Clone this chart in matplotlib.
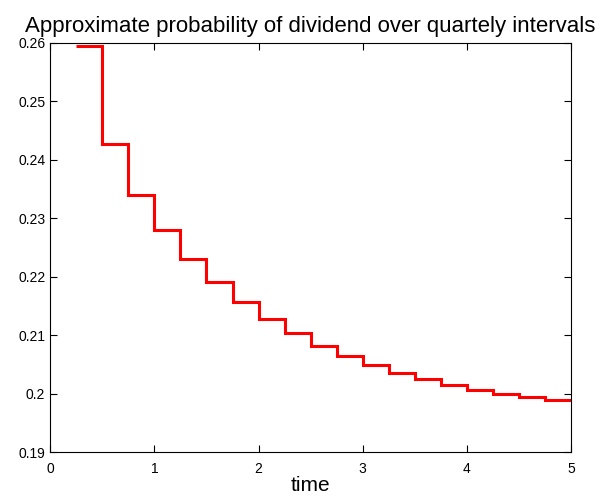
import numpy as np
import matplotlib.pyplot as plt

plt.rcParams['font.family'] = ['Liberation Sans', 'DejaVu Sans']

# quarterly interval edges (years) and approximate probability per interval
edges = [0.25, 0.5, 0.75, 1.0, 1.25, 1.5, 1.75, 2.0, 2.25, 2.5, 2.75,
         3.0, 3.25, 3.5, 3.75, 4.0, 4.25, 4.5, 4.75, 5.0]
prob = [0.2595, 0.2427, 0.2340, 0.2280, 0.2231, 0.2191, 0.2157, 0.2128,
        0.2103, 0.2082, 0.2064, 0.2049, 0.2036, 0.2025, 0.2015, 0.2007,
        0.2000, 0.1994, 0.1989]

fig = plt.figure(figsize=(6.05, 5.04), dpi=100)
ax = fig.add_axes([0.083, 0.103, 0.861, 0.812])
ax.stairs(prob, edges, baseline=None, color='red', linewidth=2.2)

ax.set_xlim(0, 5)
ax.set_ylim(0.19, 0.26)
ax.set_xticks(np.arange(0, 6, 1))
ax.set_yticks([0.19, 0.2, 0.21, 0.22, 0.23, 0.24, 0.25, 0.26])
ax.set_yticklabels(['0.19', '0.2', '0.21', '0.22', '0.23', '0.24', '0.25', '0.26'])
ax.tick_params(direction='in', top=True, right=True, labelsize=10, length=5)
ax.tick_params(axis='x', pad=7)
ax.set_xlabel('time', fontsize=15, labelpad=0)
ax.set_title('Approximate probability of dividend over quartely intervals', fontsize=16, pad=8)

fig.savefig('out.png', dpi=100)
